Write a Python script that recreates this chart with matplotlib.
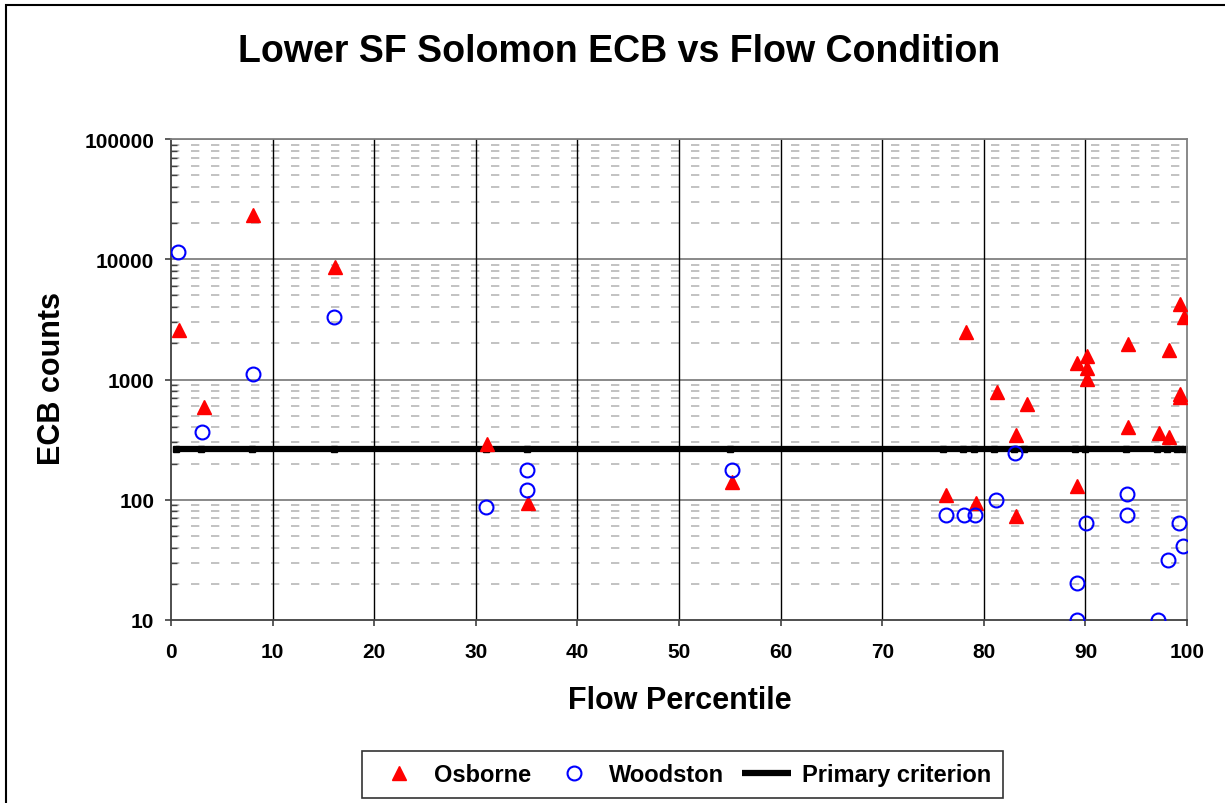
import matplotlib.pyplot as plt
from matplotlib.patches import Rectangle
from matplotlib.ticker import LogLocator, FixedLocator, NullFormatter
import numpy as np

plt.rcParams['font.family'] = ['Liberation Sans', 'DejaVu Sans']
plt.rcParams['font.weight'] = 'bold'

# Osborne samples (flow percentile, ECB counts)
osborne_x = [0.8, 3.2, 8.1, 16.1, 31.1, 35.1, 55.2, 76.3, 78.2, 79.2, 81.3, 83.2, 83.2, 84.3,
             89.2, 89.2, 90.2, 90.2, 90.2, 94.2, 94.2, 97.2, 98.2, 98.2, 99.3, 99.7, 99.3, 99.3]
osborne_y = [2580, 590, 23500, 8700, 290, 94, 140, 109, 2480, 94, 785, 348, 73, 626,
             1380, 131, 1580, 1250, 1010, 1990, 405, 360, 1770, 335, 4250, 3290, 760, 710]

# Woodston samples
woodston_x = [0.66, 3.1, 8.06, 16.0, 31.0, 35.0, 35.0, 55.2, 76.3, 78.1, 79.1, 81.2, 83.1,
              89.2, 89.2, 90.1, 94.1, 94.1, 97.1, 98.1, 99.2, 99.6]
woodston_y = [11500, 365, 1110, 3290, 87, 176, 121, 176, 74, 74, 74, 100, 245,
              20.3, 10, 64, 112, 75, 10, 31.7, 64, 41.5]

# primary criterion
criterion = 262
criterion_x = [0.5, 3.0, 8.0, 16.0, 31.0, 35.0, 55.0, 76.0, 78.0, 79.0, 81.0, 83.0, 84.0,
               89.0, 90.0, 94.0, 97.0, 98.0, 99.0, 99.7]

W, H = 1225, 804
fig = plt.figure(figsize=(W / 100, H / 100), dpi=100)
ax = fig.add_axes([171 / W, 1 - 621 / H, (1187 - 171) / W, (621 - 140) / H])

ax.set_yscale('log')
ax.set_xlim(0, 100)
ax.set_ylim(10, 100000)

# grid lines
for d in [10, 100, 1000, 10000]:
    for m in range(2, 10):
        ax.axhline(d * m, color='#b8b8b8', lw=1.2, dashes=(5, 7), zorder=0)
for d in [100, 1000, 10000, 100000]:
    ax.axhline(d, color='#808080', lw=1.3, zorder=0.5)
for xv in range(10, 100, 10):
    ax.axvline(xv, color='black', lw=1.0, zorder=0.5)

crit_line, = ax.plot(criterion_x, [criterion] * len(criterion_x), color='black', lw=4.5,
                     solid_capstyle='butt', zorder=2)
ax.plot(criterion_x, [criterion] * len(criterion_x), ls='none', color='black',
        marker='s', markersize=4, zorder=2)
osb, = ax.plot(osborne_x, osborne_y, ls='none', marker='^', markersize=10, color='red',
               markeredgecolor='red', zorder=3)
wood, = ax.plot(woodston_x, woodston_y, ls='none', marker='o', markersize=10,
                markerfacecolor='none', markeredgecolor='blue', markeredgewidth=1.5, zorder=3)

for s in ['top', 'right']:
    ax.spines[s].set_color('#808080')
    ax.spines[s].set_linewidth(1.3)
for s in ['left', 'bottom']:
    ax.spines[s].set_color('#404040')
    ax.spines[s].set_linewidth(1.3)

ax.xaxis.set_major_locator(FixedLocator(np.arange(0, 101, 10)))
ax.yaxis.set_minor_locator(LogLocator(base=10, subs=np.arange(2, 10)))
ax.yaxis.set_minor_formatter(NullFormatter())
ax.set_yticks([10, 100, 1000, 10000, 100000])
ax.set_yticklabels(['10', '100', '1000', '10000', '100000'])
ax.tick_params(axis='both', which='major', direction='out', length=4, width=1.2,
               color='#404040', labelsize=15)
ax.tick_params(axis='x', which='major', pad=12)
ax.tick_params(axis='y', which='major', pad=8)
ax.tick_params(axis='y', which='minor', direction='in', length=4, width=1, color='#404040')
ax.tick_params(axis='x', which='minor', length=0)
for lab in ax.get_xticklabels() + ax.get_yticklabels():
    lab.set_fontweight('bold')

fig.text(0.505, 1 - 52 / H, 'Lower SF Solomon ECB vs Flow Condition', ha='center', va='center',
         fontsize=27, fontweight='bold')
fig.text(680 / W, 1 - 701 / H, 'Flow Percentile', ha='center', va='center',
         fontsize=22, fontweight='bold')
fig.text(52 / W, 1 - 379 / H, 'ECB counts', ha='center', va='center', rotation=90,
         fontsize=22, fontweight='bold')

leg = fig.legend([osb, wood, crit_line], ['Osborne', 'Woodston', 'Primary criterion'],
                 loc='center', bbox_to_anchor=(682.5 / W, 1 - 775.5 / H), ncol=3,
                 frameon=True, fancybox=False, edgecolor='black', fontsize=17,
                 handlelength=2.1, handletextpad=0.45, columnspacing=0.75,
                 borderpad=0.5, markerscale=1.0)
leg.get_frame().set_linewidth(1.2)
for t in leg.get_texts():
    t.set_fontweight('bold')

# outer chart border
fig.patches.append(Rectangle((6 / W, -0.1), 1.2, 1.1 - 6 / H, transform=fig.transFigure,
                             fill=False, edgecolor='black', lw=1.5))

fig.savefig('out.png', dpi=100)
